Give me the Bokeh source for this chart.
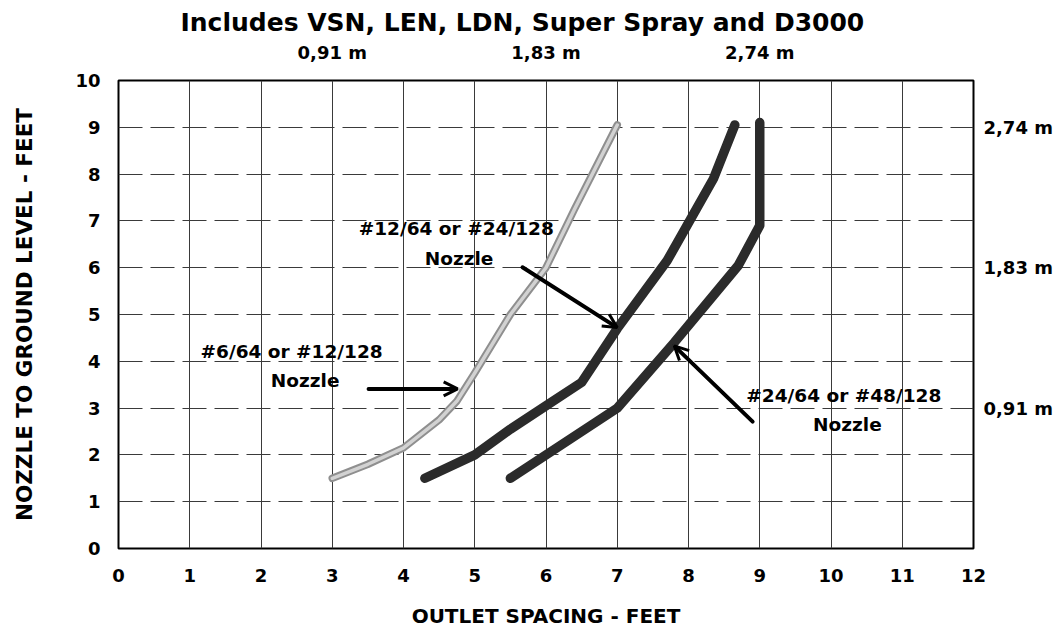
from bokeh.plotting import figure
from bokeh.models import Label, Arrow, OpenHead, FixedTicker, LinearAxis
from bokeh.embed import file_html
from bokeh.resources import INLINE

# ---- data (feet) ----
x_ticks = list(range(0, 13))
y_ticks = list(range(0, 11))

# #6/64 or #12/128 nozzle
small_x = [3.0, 3.5, 4.0, 4.5, 4.75, 5.0, 5.5, 6.0, 6.4, 7.0]
small_y = [1.5, 1.8, 2.15, 2.75, 3.15, 3.75, 5.0, 6.0, 7.25, 9.05]

# #12/64 or #24/128 nozzle
medium_x = [4.3, 5.0, 5.5, 6.0, 6.5, 7.0, 7.7, 8.35, 8.65]
medium_y = [1.5, 2.0, 2.55, 3.05, 3.55, 4.7, 6.15, 7.9, 9.05]

# #24/64 or #48/128 nozzle
large_x = [5.5, 7.0, 7.8, 8.7, 9.0, 9.0]
large_y = [1.5, 3.0, 4.4, 6.05, 6.9, 9.1]

# metric equivalents
metric_ft = [3, 6, 9]
metric_labels = ["0,91 m", "1,83 m", "2,74 m"]

FONT = "DejaVu Sans"

p = figure(width=1060, height=630, x_range=(0, 12), y_range=(0, 10),
           output_backend="svg", toolbar_location=None,
           min_border_left=118, min_border_right=87,
           min_border_top=80, min_border_bottom=81)

bottom_axis = p.below[0]
left_axis = p.left[0]

p.title.text = "Includes VSN, LEN, LDN, Super Spray and D3000"
p.title.align = "left"
p.title.offset = 62
p.title.text_font = FONT
p.title.text_font_style = "bold"
p.title.text_font_size = "25px"
p.title.text_color = "black"
p.title.standoff = 4

p.background_fill_color = "white"
p.border_fill_color = "white"
p.outline_line_color = "black"
p.outline_line_width = 2

metric_map = {ft: lab for ft, lab in zip(metric_ft, metric_labels)}
top_axis = LinearAxis(ticker=FixedTicker(ticks=metric_ft),
                      major_label_overrides=metric_map)
right_axis = LinearAxis(ticker=FixedTicker(ticks=metric_ft),
                        major_label_overrides=metric_map)
p.add_layout(top_axis, "above")
p.add_layout(right_axis, "right")

# axes
for ax in (bottom_axis, left_axis, top_axis, right_axis):
    ax.axis_line_color = None
    ax.major_tick_line_color = None
    ax.minor_tick_line_color = None
    ax.major_tick_out = 0
    ax.major_tick_in = 0
    ax.minor_tick_out = 0
    ax.minor_tick_in = 0
    ax.major_label_text_font = FONT
    ax.major_label_text_font_style = "bold"
    ax.major_label_text_font_size = "18px"
    ax.major_label_text_color = "black"
    ax.axis_label_text_font = FONT
    ax.axis_label_text_font_style = "bold"
    ax.axis_label_text_color = "black"

bottom_axis.ticker = FixedTicker(ticks=x_ticks)
left_axis.ticker = FixedTicker(ticks=y_ticks)
bottom_axis.axis_label = "OUTLET SPACING - FEET"
left_axis.axis_label = "NOZZLE TO GROUND LEVEL - FEET"
bottom_axis.axis_label_text_font_size = "20px"
left_axis.axis_label_text_font_size = "21.5px"
bottom_axis.major_label_standoff = 20
bottom_axis.axis_label_standoff = 19
left_axis.major_label_standoff = 18
left_axis.axis_label_standoff = 35
top_axis.major_label_standoff = 18
right_axis.major_label_standoff = 10

# grid
p.xgrid.ticker = FixedTicker(ticks=x_ticks)
p.ygrid.ticker = FixedTicker(ticks=y_ticks)
p.xgrid.grid_line_color = "#3a3a3a"
p.xgrid.grid_line_width = 1
p.ygrid.grid_line_color = "#3a3a3a"
p.ygrid.grid_line_width = 1
p.ygrid.grid_line_dash = "24 8"

# curves
p.line(small_x, small_y, line_color="#8f8f8f", line_width=7.5,
       line_cap="round", line_join="round")
p.line(small_x, small_y, line_color="#d2d2d2", line_width=3.5,
       line_cap="round", line_join="round")
p.line(medium_x, medium_y, line_color="#2b2b2b", line_width=9.5,
       line_cap="round", line_join="round")
p.line(large_x, large_y, line_color="#2b2b2b", line_width=9.5,
       line_cap="round", line_join="round")

# annotations
def txt(x, y, s):
    p.add_layout(Label(x=x, y=y, text=s, text_font=FONT, text_font_style="bold",
                       text_font_size="18.5px", text_align="center",
                       text_baseline="middle", text_color="black"))

txt(4.74, 6.84, "#12/64 or #24/128")
txt(4.78, 6.2, "Nozzle")
txt(2.43, 4.2, "#6/64 or #12/128")
txt(2.62, 3.58, "Nozzle")
txt(10.18, 3.27, "#24/64 or #48/128")
txt(10.23, 2.64, "Nozzle")

def arrow(x0, y0, x1, y1):
    p.add_layout(Arrow(x_start=x0, y_start=y0, x_end=x1, y_end=y1,
                       line_width=4, line_color="black", line_cap="round",
                       end=OpenHead(size=14, line_width=3, line_color="black")))

arrow(5.67, 6.01, 7.0, 4.72)
arrow(3.51, 3.41, 4.76, 3.41)
arrow(8.9, 2.71, 7.8, 4.33)

open("out.html", "w").write(file_html(p, INLINE))
